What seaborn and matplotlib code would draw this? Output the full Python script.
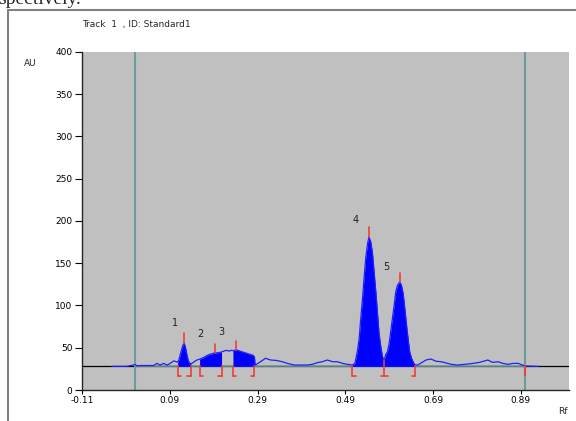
import numpy as np
import matplotlib
matplotlib.use("Agg")
import matplotlib.pyplot as plt
import seaborn as sns
from matplotlib.patches import Rectangle

# densitogram trace (Rf, AU)
rf = [-0.042, -0.008, 0.011, 0.016, 0.023, 0.053, 0.061, 0.068, 0.076, 0.084, 0.091, 0.099, 0.105,
      0.108, 0.111, 0.114, 0.117, 0.120, 0.123, 0.126, 0.129, 0.132, 0.135, 0.138,
      0.142, 0.147, 0.152,
      0.158, 0.165, 0.172, 0.180, 0.187, 0.192, 0.198, 0.204, 0.208,
      0.213, 0.219, 0.225, 0.230,
      0.234, 0.240, 0.245, 0.250, 0.256, 0.262, 0.268, 0.274, 0.280, 0.283,
      0.285, 0.297, 0.308, 0.320, 0.333, 0.346, 0.358, 0.373, 0.388, 0.404, 0.415, 0.426,
      0.438, 0.449, 0.461, 0.472, 0.484, 0.495,
      0.506, 0.512, 0.518, 0.522, 0.525, 0.529, 0.533, 0.537, 0.541, 0.544, 0.548, 0.552,
      0.556, 0.560, 0.564, 0.567, 0.571, 0.575, 0.579,
      0.583, 0.586, 0.590, 0.594, 0.598, 0.602, 0.605, 0.609, 0.614, 0.618, 0.622, 0.626,
      0.630, 0.634, 0.637, 0.641, 0.646, 0.649,
      0.655, 0.663, 0.674, 0.685, 0.697, 0.708, 0.720, 0.731, 0.746, 0.762, 0.781, 0.796,
      0.815, 0.826, 0.838, 0.849, 0.861, 0.872, 0.884, 0.893, 0.903, 0.930]
au = [28, 28, 30, 28.5, 29, 29, 31.5, 29.5, 31.5, 29.5, 31.5, 34.5, 33.5,
      33, 36, 42, 48, 53, 55.5, 50, 42, 35, 32, 31,
      32, 34, 35.5,
      36.5, 38, 40, 42, 43, 44, 44, 44.5, 45,
      46, 47, 46, 47,
      46.5, 47.5, 47, 46, 45, 44, 43, 42, 41, 39,
      29.6, 33.5, 37.5, 35.5, 35, 33.5, 31.5, 29.6, 29.6, 29.6, 30.4, 32.3,
      33.5, 35.5, 33.5, 33.5, 31.5, 30.4,
      29.6, 31.6, 47, 63, 83, 106.5, 134, 158, 174, 181, 175.5, 162,
      138, 114, 87, 67, 51, 39, 36,
      43, 45, 55, 71, 87, 102.5, 116, 124, 128, 124, 114, 95,
      75, 57, 45, 37.5, 32, 29.6,
      29.6, 32, 35.5, 36.7, 34, 33.5, 32, 30.4, 29.6, 30.4, 31.5, 32.7,
      35.5, 32.7, 33.5, 31.5, 30.4, 31.5, 31.5, 29.6, 28.4, 28]

baseline = 28
# integration windows (start, end) for each peak
peak_lo = [0.108, 0.158, 0.234, 0.506, 0.579]
peak_hi = [0.138, 0.208, 0.283, 0.579, 0.649]
# peak apex markers and labels
peak_rf = [0.123, 0.192, 0.241, 0.544, 0.614]
peak_top = [67, 54, 58, 193, 138]
labels = ["1", "2", "3", "4", "5"]
label_rf = [0.103, 0.160, 0.208, 0.514, 0.583]
label_au = [79, 66, 69, 201, 146]
# bracket marks under the baseline
bracket_rf = [0.108, 0.138, 0.158, 0.208, 0.234, 0.283, 0.506, 0.579, 0.649, 0.900]
bracket_kind = ["L", "R", "L", "R", "L", "R", "L", "M", "R", "E"]
front_lines = [0.011, 0.900]
xticks = [-0.11, 0.09, 0.29, 0.49, 0.69, 0.89]
yticks = [0, 50, 100, 150, 200, 250, 300, 350, 400]

sns.set_style("ticks")
plt.rcParams["font.family"] = ["DejaVu Sans"]

fig = plt.figure(figsize=(5.76, 4.21), dpi=100)
ax = fig.add_axes([0.1424, 0.0736, 0.8455, 0.803])
ax.set_facecolor("#c0c0c0")

rf_a = np.array(rf)
au_a = np.array(au)

red = "#f03c3c"
teal = "#6e9c9c"

ax.axhline(baseline, color="black", lw=0.9, zorder=1)
ax.plot([front_lines[0], front_lines[1]], [baseline, baseline], color=teal, lw=1.2, zorder=2)
for f in front_lines:
    ax.axvline(f, color=teal, lw=1.5, zorder=2)

for lo, hi in zip(peak_lo, peak_hi):
    m = (rf_a >= lo) & (rf_a <= hi)
    ax.fill_between(rf_a[m], baseline, au_a[m], color="#0000ff", lw=0, zorder=3)

sns.lineplot(x=rf, y=au, sort=False, estimator=None, color="#2020ff", lw=0.9, ax=ax, zorder=4)

for p, top in zip(peak_rf, peak_top):
    ax.plot([p, p], [np.interp(p, rf_a, au_a), top], color=red, lw=1.2, zorder=5)

bot = 16
dx = 0.008
for b, k in zip(bracket_rf, bracket_kind):
    if k == "E":
        ax.plot([b, b], [baseline, 18], color=red, lw=1.4, zorder=5)
        continue
    top = np.interp(b, rf_a, au_a) if k == "M" else baseline
    ax.plot([b, b], [top, bot], color=red, lw=1.2, zorder=5)
    if k in ("L", "M"):
        ax.plot([b, b + dx], [bot, bot], color=red, lw=1.2, zorder=5)
    if k in ("R", "M"):
        ax.plot([b - dx, b], [bot, bot], color=red, lw=1.2, zorder=5)

for t, x, y in zip(labels, label_rf, label_au):
    ax.text(x, y, t, fontsize=7, color="#202020", ha="center", va="center")

ax.set_xlim(-0.11, 1.0)
ax.set_ylim(0, 400)
ax.set_xticks(xticks)
ax.set_xticklabels([f"{v:.2f}" for v in xticks])
ax.set_yticks(yticks)
ax.tick_params(axis="y", labelsize=6.5, length=5, width=0.8, pad=2, colors="black")
ax.tick_params(axis="x", labelsize=6.5, length=3, width=0.8, pad=1.5, colors="black")
for s in ["top", "right"]:
    ax.spines[s].set_visible(False)
ax.spines["left"].set_linewidth(1.0)
ax.spines["bottom"].set_linewidth(1.0)
ax.set_xlabel("")
ax.set_ylabel("")

fig.text(82 / 576, 1 - 24 / 421, "Track  1  , ID: Standard1", fontsize=6.5, va="center", ha="left")
fig.text(30 / 576, 1 - 64 / 421, "AU", fontsize=6.5, va="center", ha="center")
fig.text(563 / 576, 1 - 412 / 421, "Rf", fontsize=6.5, va="center", ha="center")
fig.text(-0.004, 1 - 4 / 421, "spectively.", fontsize=14, family="Liberation Serif",
         va="baseline", ha="left")

# outer frame of the document figure
fig.add_artist(Rectangle((8 / 576, -0.1), 1.2, 1 - 10 / 421 + 0.1, transform=fig.transFigure,
                         fill=False, edgecolor="#808080", lw=1.5))

fig.savefig("out.png", dpi=100)
